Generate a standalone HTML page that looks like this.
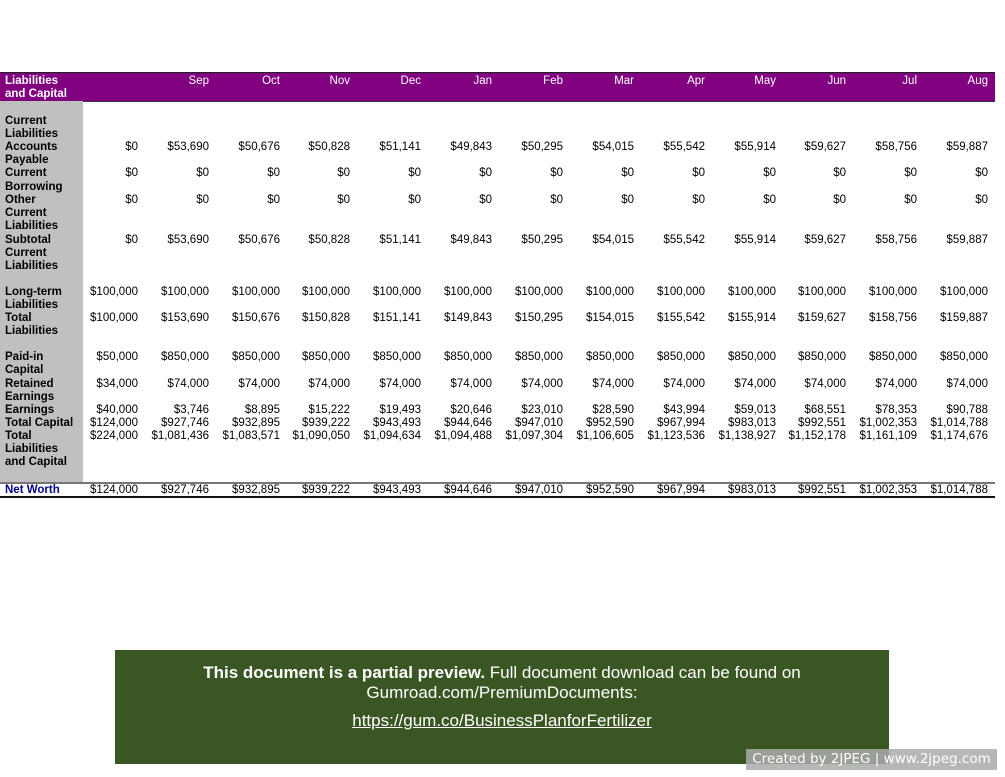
<!DOCTYPE html>
<html><head><meta charset="utf-8"><style>
body{margin:0;width:1005px;height:777px;background:#fff;position:relative;overflow:hidden;font-family:"Liberation Sans",Arial,sans-serif;}
.hdr{position:absolute;left:0;top:72px;width:995px;height:28px;background:#800080;border-top:1px solid #222;border-bottom:1px solid #333;}
.gray{position:absolute;left:0;top:101px;width:83px;height:382px;background:#c0c0c0;}
.r{position:absolute;left:0;height:13px;line-height:13px;font-size:11.5px;white-space:nowrap;display:flex;}
.r span{display:block;text-align:right;}
.r span:first-child{width:83px;text-align:left;padding-left:5px;box-sizing:border-box;font-weight:bold;}
.r span:nth-child(2){width:55px}
.r span:nth-child(n+3){width:71px}
.r span:nth-child(5),.r span:nth-child(12){width:70px}
.h{color:#fff;}
.h span:first-child{font-weight:bold}
.h span:nth-child(n+2){font-weight:normal}
.nw span:first-child{color:#00008b}
.l1{position:absolute;left:0;top:482px;width:995px;height:2px;background:#777;}
.l2{position:absolute;left:0;top:496px;width:995px;height:2px;background:#111;}
.box{position:absolute;left:115px;top:650px;width:774px;height:114px;background:#3a5623;color:#fff;text-align:center;font-size:17px;}
.wm{position:absolute;left:746px;top:749px;width:251px;height:21px;background:rgba(170,170,170,0.85);color:#fff;font-family:"DejaVu Sans",sans-serif;font-size:13.5px;line-height:21px;text-align:center;white-space:nowrap;overflow:hidden;}
</style></head><body>
<div class="hdr"></div>
<div class="gray"></div>
<div class="r h" style="top:75px"><span>Liabilities</span><span></span><span>Sep</span><span>Oct</span><span>Nov</span><span>Dec</span><span>Jan</span><span>Feb</span><span>Mar</span><span>Apr</span><span>May</span><span>Jun</span><span>Jul</span><span>Aug</span></div>
<div class="r h" style="top:88px"><span>and Capital</span></div>

<div class="r" style="top:115px"><span>Current</span></div>
<div class="r" style="top:128px"><span>Liabilities</span></div>
<div class="r" style="top:141px"><span>Accounts</span><span>$0</span><span>$53,690</span><span>$50,676</span><span>$50,828</span><span>$51,141</span><span>$49,843</span><span>$50,295</span><span>$54,015</span><span>$55,542</span><span>$55,914</span><span>$59,627</span><span>$58,756</span><span>$59,887</span></div>
<div class="r" style="top:154px"><span>Payable</span></div>
<div class="r" style="top:167px"><span>Current</span><span>$0</span><span>$0</span><span>$0</span><span>$0</span><span>$0</span><span>$0</span><span>$0</span><span>$0</span><span>$0</span><span>$0</span><span>$0</span><span>$0</span><span>$0</span></div>
<div class="r" style="top:181px"><span>Borrowing</span></div>
<div class="r" style="top:194px"><span>Other</span><span>$0</span><span>$0</span><span>$0</span><span>$0</span><span>$0</span><span>$0</span><span>$0</span><span>$0</span><span>$0</span><span>$0</span><span>$0</span><span>$0</span><span>$0</span></div>
<div class="r" style="top:207px"><span>Current</span></div>
<div class="r" style="top:220px"><span>Liabilities</span></div>
<div class="r" style="top:234px"><span>Subtotal</span><span>$0</span><span>$53,690</span><span>$50,676</span><span>$50,828</span><span>$51,141</span><span>$49,843</span><span>$50,295</span><span>$54,015</span><span>$55,542</span><span>$55,914</span><span>$59,627</span><span>$58,756</span><span>$59,887</span></div>
<div class="r" style="top:247px"><span>Current</span></div>
<div class="r" style="top:260px"><span>Liabilities</span></div>

<div class="r" style="top:286px"><span>Long-term</span><span>$100,000</span><span>$100,000</span><span>$100,000</span><span>$100,000</span><span>$100,000</span><span>$100,000</span><span>$100,000</span><span>$100,000</span><span>$100,000</span><span>$100,000</span><span>$100,000</span><span>$100,000</span><span>$100,000</span></div>
<div class="r" style="top:299px"><span>Liabilities</span></div>
<div class="r" style="top:312px"><span>Total</span><span>$100,000</span><span>$153,690</span><span>$150,676</span><span>$150,828</span><span>$151,141</span><span>$149,843</span><span>$150,295</span><span>$154,015</span><span>$155,542</span><span>$155,914</span><span>$159,627</span><span>$158,756</span><span>$159,887</span></div>
<div class="r" style="top:325px"><span>Liabilities</span></div>

<div class="r" style="top:351px"><span>Paid-in</span><span>$50,000</span><span>$850,000</span><span>$850,000</span><span>$850,000</span><span>$850,000</span><span>$850,000</span><span>$850,000</span><span>$850,000</span><span>$850,000</span><span>$850,000</span><span>$850,000</span><span>$850,000</span><span>$850,000</span></div>
<div class="r" style="top:364px"><span>Capital</span></div>
<div class="r" style="top:378px"><span>Retained</span><span>$34,000</span><span>$74,000</span><span>$74,000</span><span>$74,000</span><span>$74,000</span><span>$74,000</span><span>$74,000</span><span>$74,000</span><span>$74,000</span><span>$74,000</span><span>$74,000</span><span>$74,000</span><span>$74,000</span></div>
<div class="r" style="top:391px"><span>Earnings</span></div>
<div class="r" style="top:404px"><span>Earnings</span><span>$40,000</span><span>$3,746</span><span>$8,895</span><span>$15,222</span><span>$19,493</span><span>$20,646</span><span>$23,010</span><span>$28,590</span><span>$43,994</span><span>$59,013</span><span>$68,551</span><span>$78,353</span><span>$90,788</span></div>
<div class="r" style="top:417px"><span>Total Capital</span><span>$124,000</span><span>$927,746</span><span>$932,895</span><span>$939,222</span><span>$943,493</span><span>$944,646</span><span>$947,010</span><span>$952,590</span><span>$967,994</span><span>$983,013</span><span>$992,551</span><span>$1,002,353</span><span>$1,014,788</span></div>
<div class="r" style="top:430px"><span>Total</span><span>$224,000</span><span>$1,081,436</span><span>$1,083,571</span><span>$1,090,050</span><span>$1,094,634</span><span>$1,094,488</span><span>$1,097,304</span><span>$1,106,605</span><span>$1,123,536</span><span>$1,138,927</span><span>$1,152,178</span><span>$1,161,109</span><span>$1,174,676</span></div>
<div class="r" style="top:443px"><span>Liabilities</span></div>
<div class="r" style="top:456px"><span>and Capital</span></div>

<div class="l1"></div>
<div class="r nw" style="top:484px"><span>Net Worth</span><span>$124,000</span><span>$927,746</span><span>$932,895</span><span>$939,222</span><span>$943,493</span><span>$944,646</span><span>$947,010</span><span>$952,590</span><span>$967,994</span><span>$983,013</span><span>$992,551</span><span>$1,002,353</span><span>$1,014,788</span></div>
<div class="l2"></div>

<div class="box">
<div style="position:absolute;top:13px;width:100%;line-height:20px"><b>This document is a partial preview.</b> Full document download can be found on</div>
<div style="position:absolute;top:33px;width:100%;line-height:20px">Gumroad.com/PremiumDocuments:</div>
<div style="position:absolute;top:61px;width:100%;line-height:20px;text-decoration:underline">https://gum.co/BusinessPlanforFertilizer</div>
</div>
<div class="wm">Created by 2JPEG | www.2jpeg.com</div>
</body></html>
